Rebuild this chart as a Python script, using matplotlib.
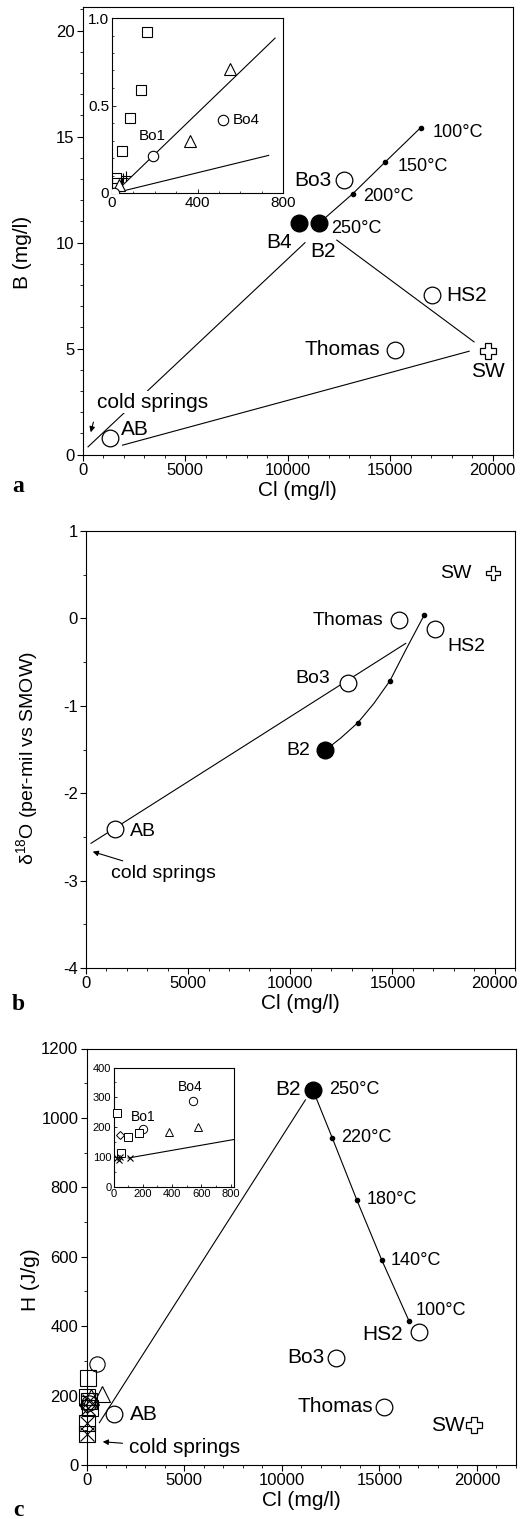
import matplotlib
matplotlib.use("Agg")
import matplotlib.pyplot as plt
from matplotlib.ticker import MultipleLocator

plt.rcParams["font.family"] = ["Liberation Sans", "DejaVu Sans"]
plt.rcParams["axes.unicode_minus"] = False
plt.rcParams["mathtext.default"] = "regular"

FIG_W, FIG_H = 528, 1519

# ---- panel a: B vs Cl ----
a_open_names = ["AB", "Bo3", "Thomas", "HS2"]
a_open_cl = [1340, 12730, 15230, 17030]
a_open_b = [0.77, 12.94, 4.96, 7.53]
a_fill_names = ["B4", "B2"]
a_fill_cl = [10570, 11550]
a_fill_b = [10.93, 10.93]
a_sw_cl, a_sw_b = 19800, 4.88
a_temp_labels = ["250°C", "200°C", "150°C", "100°C"]
a_temp_cl = [11550, 13170, 14770, 16490]
a_temp_b = [10.93, 12.30, 13.81, 15.42]
a_cold_line_cl = [260, 10850]
a_cold_line_b = [0.37, 10.0]
a_b2sw_line_cl = [12400, 19100]
a_b2sw_line_b = [10.12, 5.32]
a_absw_line_cl = [1945, 18860]
a_absw_line_b = [0.45, 4.88]

# inset a (low Cl waters)
ia_sq_cl = [164, 138, 83, 47, 20, 23]
ia_sq_b = [0.92, 0.59, 0.43, 0.24, 0.087, 0.058]
ia_tri_cl = [551, 364, 32]
ia_tri_b = [0.71, 0.30, 0.044]
ia_circ_names = ["Bo4", "Bo1", ""]
ia_circ_cl = [520, 190, 9]
ia_circ_b = [0.42, 0.21, 0.0]
ia_plus_cl = [65, 50]
ia_plus_b = [0.096, 0.085]
ia_line1_cl = [12, 763]
ia_line1_b = [0.0, 0.885]
ia_line2_cl = [12, 733]
ia_line2_b = [0.0, 0.215]

# ---- panel b: d18O vs Cl ----
b_open_names = ["Thomas", "HS2", "Bo3", "AB"]
b_open_cl = [15325, 17095, 12835, 1425]
b_open_d18o = [-0.02, -0.126, -0.736, -2.413]
b_b2_cl, b_b2_d18o = 11720, -1.506
b_sw_cl, b_sw_d18o = 19915, 0.515
b_curve_cl = [11720, 12455, 13310, 14095, 14880, 15650, 16555]
b_curve_d18o = [-1.506, -1.372, -1.193, -0.972, -0.713, -0.362, 0.038]
b_temp_cl = [13310, 14880, 16555]
b_temp_d18o = [-1.193, -0.713, 0.038]
b_mix_cl = [246, 15650]
b_mix_d18o = [-2.573, -0.286]

# ---- panel c: enthalpy vs Cl ----
c_open_names = ["HS2", "Bo3", "Thomas", "AB"]
c_open_cl = [17020, 12780, 15260, 1420]
c_open_h = [382, 309, 168, 146]
c_b2_cl, c_b2_h = 11590, 1081
c_sw_cl, c_sw_h = 19825, 114
c_temp_labels = ["250°C", "220°C", "180°C", "140°C", "100°C"]
c_temp_cl = [11590, 12580, 13840, 15125, 16510]
c_temp_h = [1081, 943, 764, 590, 416]
c_mix_cl = [650, 11210]
c_mix_h = [122, 1052]
# cold springs near Cl = 0
c_cs_sq_cl = [60, 0, 120, 150, 0, 0]
c_cs_sq_h = [250, 195, 185, 165, 122, 88]
c_cs_circ_cl = [530, 100]
c_cs_circ_h = [290, 178]
c_cs_tri_cl = [760, 220]
c_cs_tri_h = [205, 195]
c_cs_x_cl = [100, 0, 0, 60]
c_cs_x_h = [185, 122, 88, 165]
c_cs_dia_cl = [40]
c_cs_dia_h = [172]

# inset c
ic_circ_names = ["Bo4", "Bo1"]
ic_circ_cl = [546, 200]
ic_circ_h = [287, 194]
ic_tri_cl = [382, 580]
ic_tri_h = [183, 200]
ic_sq_cl = [27, 98, 171, 48]
ic_sq_h = [247, 169, 180, 115]
ic_dia_cl = [41]
ic_dia_h = [175]
ic_x_cl = [46, 114, 25, 35]
ic_x_h = [101, 97, 97, 92]
ic_line_cl = [100, 823]
ic_line_h = [97, 159]


def px_rect(left, top, right, bottom):
    return [left / FIG_W, 1 - bottom / FIG_H, (right - left) / FIG_W, (bottom - top) / FIG_H]


def style_main(ax, xmaj, xmin, ymaj, ymin):
    ax.xaxis.set_major_locator(MultipleLocator(xmaj))
    ax.xaxis.set_minor_locator(MultipleLocator(xmin))
    ax.yaxis.set_major_locator(MultipleLocator(ymaj))
    ax.yaxis.set_minor_locator(MultipleLocator(ymin))
    ax.tick_params(which="major", direction="out", length=4, width=0.8, labelsize=12, pad=2)
    ax.tick_params(which="minor", direction="out", length=2.5, width=0.6)
    for sp in ax.spines.values():
        sp.set_linewidth(0.8)


def label(ax, text, x, y, dx, dy, size, ha="left", va="center"):
    ax.annotate(text, (x, y), xytext=(dx, dy), textcoords="offset pixels",
                ha=ha, va=va, fontsize=size, zorder=6)


LW = 0.8
open_kw = dict(ls="none", marker="o", mfc="white", mec="black", mew=0.9, zorder=4)

fig = plt.figure(figsize=(FIG_W / 100, FIG_H / 100), dpi=100)

# ================= panel a =================
ax = fig.add_axes(px_rect(82.7, 7.3, 513, 454.7))
ax.set_xlim(0, 21000)
ax.set_ylim(0, 21.1)
style_main(ax, 5000, 1000, 5, 1)
ax.plot(a_cold_line_cl, a_cold_line_b, color="black", lw=LW, zorder=2)
ax.plot(a_b2sw_line_cl, a_b2sw_line_b, color="black", lw=LW, zorder=2)
ax.plot(a_absw_line_cl, a_absw_line_b, color="black", lw=LW, zorder=2)
ax.plot(a_temp_cl, a_temp_b, color="black", lw=LW, marker="o", ms=3, zorder=3)
ax.plot(a_open_cl, a_open_b, ms=12, **open_kw)
ax.plot(a_fill_cl, a_fill_b, ls="none", marker="o", ms=12, color="black", zorder=4)
ax.plot([a_sw_cl], [a_sw_b], ls="none", marker="P", ms=11, mfc="white", mec="black", mew=0.9, zorder=4)

a_open_off = {"AB": (11, 9, "left"), "Bo3": (-12, 0, "right"),
              "Thomas": (-15, 0, "right"), "HS2": (15, 0, "left")}
for n, x, y in zip(a_open_names, a_open_cl, a_open_b):
    dx, dy, ha = a_open_off[n]
    label(ax, n, x, y, dx, dy, 15, ha=ha)
label(ax, "B4", a_fill_cl[0], a_fill_b[0], -7, -20, 15, ha="right")
label(ax, "B2", a_fill_cl[1], a_fill_b[1], 4, -29, 15, ha="center")
label(ax, "SW", a_sw_cl, a_sw_b, 0, -20, 15, ha="center")
a_temp_off = [(12, -6), (11, -3), (12, -5), (12, -5)]
for t, x, y, (dx, dy) in zip(a_temp_labels, a_temp_cl, a_temp_b, a_temp_off):
    label(ax, t, x, y, dx, dy, 13)
ax.text(3415, 2.47, "cold springs", ha="center", va="center", fontsize=15, zorder=5,
        bbox=dict(facecolor="white", edgecolor="none", pad=1))
ax.annotate("", xy=(360, 0.93), xytext=(555, 1.66),
            arrowprops=dict(arrowstyle="-|>", color="black", lw=0.8, mutation_scale=8))
ax.set_xlabel("Cl (mg/l)", fontsize=15, labelpad=2)
fig.text(22 / FIG_W, 1 - 252 / FIG_H, "B (mg/l)", rotation=90, ha="center", va="center", fontsize=15)
fig.text(18 / FIG_W, 1 - 486 / FIG_H, "a", fontsize=17, fontweight="bold",
         family="Liberation Serif", ha="center", va="center")

# inset a
ia = fig.add_axes(px_rect(112, 18, 283, 193))
ia.set_xlim(0, 800)
ia.set_ylim(0, 1.0)
ia.set_xticks([0, 400, 800])
ia.set_yticks([0, 0.5, 1.0])
ia.set_yticklabels(["0", "0.5", "1.0"])
ia.xaxis.set_minor_locator(MultipleLocator(100))
ia.yaxis.set_minor_locator(MultipleLocator(0.1))
ia.tick_params(which="major", direction="in", length=3, width=0.6, labelsize=11, pad=2)
ia.tick_params(which="minor", direction="in", length=1.5, width=0.5)
for sp in ia.spines.values():
    sp.set_linewidth(0.8)
ia.plot(ia_line1_cl, ia_line1_b, color="black", lw=LW, zorder=2)
ia.plot(ia_line2_cl, ia_line2_b, color="black", lw=LW, zorder=2)
ia.plot(ia_sq_cl, ia_sq_b, ls="none", marker="s", ms=7.5, mfc="none", mec="black", mew=0.8, zorder=3)
ia.plot(ia_tri_cl, ia_tri_b, ls="none", marker="^", ms=8, mfc="white", mec="black", mew=0.8, zorder=3)
ia.plot(ia_circ_cl, ia_circ_b, ls="none", marker="o", ms=7.5, mfc="white", mec="black", mew=0.8, zorder=3)
ia.plot(ia_plus_cl, ia_plus_b, ls="none", marker="+", ms=7, mec="black", mew=0.8, zorder=3)
label(ia, ia_circ_names[0], ia_circ_cl[0], ia_circ_b[0], 10, 0, 11)
label(ia, ia_circ_names[1], ia_circ_cl[1], ia_circ_b[1], 0, 20, 11, ha="center")

# ================= panel b =================
ax = fig.add_axes(px_rect(86, 531, 515, 968))
ax.set_xlim(0, 21000)
ax.set_ylim(-4, 1)
style_main(ax, 5000, 1000, 1, 0.5)
ax.plot(b_mix_cl, b_mix_d18o, color="black", lw=LW, zorder=2)
ax.plot(b_curve_cl, b_curve_d18o, color="black", lw=LW, zorder=2)
ax.plot(b_temp_cl, b_temp_d18o, ls="none", marker="o", ms=3, color="black", zorder=3)
ax.plot(b_open_cl, b_open_d18o, ms=12, **open_kw)
ax.plot([b_b2_cl], [b_b2_d18o], ls="none", marker="o", ms=12, color="black", zorder=4)
ax.plot([b_sw_cl], [b_sw_d18o], ls="none", marker="P", ms=10, mfc="white", mec="black", mew=0.9, zorder=4)
b_open_off = {"Thomas": (-16, 0, "right"), "HS2": (12, -17, "left"),
              "Bo3": (-18, 4, "right"), "AB": (15, -2, "left")}
for n, x, y in zip(b_open_names, b_open_cl, b_open_d18o):
    dx, dy, ha = b_open_off[n]
    label(ax, n, x, y, dx, dy, 14, ha=ha)
label(ax, "B2", b_b2_cl, b_b2_d18o, -15, 0, 14, ha="right")
label(ax, "SW", b_sw_cl, b_sw_d18o, -21, 0, 14, ha="right")
ax.annotate("cold springs", xy=(328, -2.669), xytext=(1230, -2.917), ha="left", va="center",
            fontsize=14, arrowprops=dict(arrowstyle="-|>", color="black", lw=0.8,
                                         mutation_scale=8, shrinkA=3, shrinkB=0))
ax.set_xlabel("Cl (mg/l)", fontsize=15, labelpad=2)
fig.text(27 / FIG_W, 1 - 758 / FIG_H, "δ$^{18}$O (per-mil vs SMOW)", rotation=90,
         ha="center", va="center", fontsize=14)
fig.text(18 / FIG_W, 1 - 1005 / FIG_H, "b", fontsize=17, fontweight="bold",
         family="Liberation Serif", ha="center", va="center")

# ================= panel c =================
ax = fig.add_axes(px_rect(86.7, 1048.5, 516, 1465))
ax.set_xlim(0, 22000)
ax.set_ylim(0, 1200)
style_main(ax, 5000, 1000, 200, 100)
ax.plot(c_mix_cl, c_mix_h, color="black", lw=LW, zorder=2)
ax.plot(c_temp_cl, c_temp_h, color="black", lw=LW, marker="o", ms=3, zorder=3)
ax.plot(c_open_cl, c_open_h, ms=12, **open_kw)
ax.plot([c_b2_cl], [c_b2_h], ls="none", marker="o", ms=12, color="black", zorder=4)
ax.plot([c_sw_cl], [c_sw_h], ls="none", marker="P", ms=11, mfc="white", mec="black", mew=0.9, zorder=4)
cs_kw = dict(ls="none", mfc="none", mec="black", mew=0.8, zorder=3, clip_on=False)
ax.plot(c_cs_sq_cl, c_cs_sq_h, marker="s", ms=11, **cs_kw)
ax.plot(c_cs_circ_cl, c_cs_circ_h, marker="o", ms=11, **cs_kw)
ax.plot(c_cs_tri_cl, c_cs_tri_h, marker="^", ms=11, **cs_kw)
ax.plot(c_cs_x_cl, c_cs_x_h, marker="x", ms=10, **cs_kw)
ax.plot(c_cs_dia_cl, c_cs_dia_h, marker="D", ms=8, **cs_kw)
c_open_off = {"HS2": (-16, -2, "right"), "Bo3": (-12, 0, "right"),
              "Thomas": (-11, 0, "right"), "AB": (16, 0, "left")}
for n, x, y in zip(c_open_names, c_open_cl, c_open_h):
    dx, dy, ha = c_open_off[n]
    label(ax, n, x, y, dx, dy, 15, ha=ha)
label(ax, "B2", c_b2_cl, c_b2_h, -12, 0, 15, ha="right")
label(ax, "SW", c_sw_cl, c_sw_h, -9, 0, 15, ha="right")
c_temp_off = [(16, 0), (9, 0), (10, 0), (9, 0), (7, 10)]
for t, x, y, (dx, dy) in zip(c_temp_labels, c_temp_cl, c_temp_h, c_temp_off):
    label(ax, t, x, y, dx, dy, 13)
ax.annotate("cold springs", xy=(820, 67), xytext=(2190, 49), ha="left", va="center",
            fontsize=15, arrowprops=dict(arrowstyle="-|>", color="black", lw=0.8,
                                         mutation_scale=8, shrinkA=3, shrinkB=0))
ax.set_xlabel("Cl (mg/l)", fontsize=15, labelpad=2)
fig.text(30 / FIG_W, 1 - 1280 / FIG_H, "H (J/g)", rotation=90, ha="center", va="center", fontsize=15)
fig.text(18 / FIG_W, 1 - 1510 / FIG_H, "c", fontsize=17, fontweight="bold",
         family="Liberation Serif", ha="center", va="center")

# inset c
ic = fig.add_axes(px_rect(113.5, 1067.5, 234, 1187))
ic.set_xlim(0, 823)
ic.set_ylim(0, 400)
ic.set_xticks([0, 200, 400, 600, 800])
ic.set_yticks([0, 100, 200, 300, 400])
ic.xaxis.set_minor_locator(MultipleLocator(100))
ic.yaxis.set_minor_locator(MultipleLocator(50))
ic.tick_params(which="major", direction="in", length=2.5, width=0.6, labelsize=8, pad=1.5)
ic.tick_params(which="minor", direction="in", length=1.5, width=0.5)
for sp in ic.spines.values():
    sp.set_linewidth(0.8)
ic.plot(ic_line_cl, ic_line_h, color="black", lw=LW, zorder=2)
ic_kw = dict(ls="none", mfc="white", mec="black", mew=0.7, zorder=3, clip_on=False)
ic.plot(ic_circ_cl, ic_circ_h, marker="o", ms=6, **ic_kw)
ic.plot(ic_tri_cl, ic_tri_h, marker="^", ms=6, **ic_kw)
ic.plot(ic_sq_cl, ic_sq_h, marker="s", ms=5.5, **ic_kw)
ic.plot(ic_dia_cl, ic_dia_h, marker="D", ms=4.5, **ic_kw)
ic.plot(ic_x_cl, ic_x_h, ls="none", marker="x", ms=5, mec="black", mew=0.8, zorder=3)
label(ic, ic_circ_names[0], ic_circ_cl[0], ic_circ_h[0], -3, 14, 10, ha="center")
label(ic, ic_circ_names[1], ic_circ_cl[1], ic_circ_h[1], 0, 12, 10, ha="center")

fig.savefig("out.png", dpi=100)
